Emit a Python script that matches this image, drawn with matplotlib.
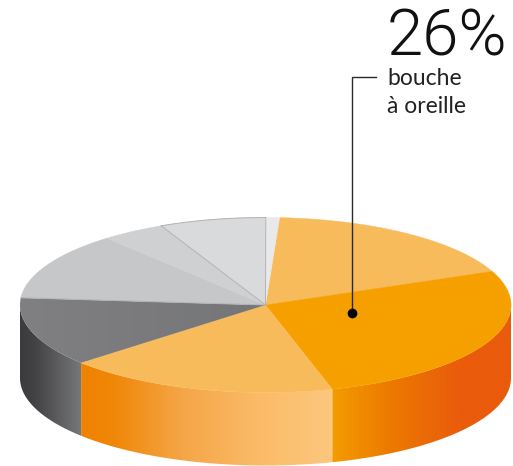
import numpy as np
import matplotlib
matplotlib.use("Agg")
import matplotlib.pyplot as plt
from matplotlib.colors import LinearSegmentedColormap
from matplotlib.patches import Polygon

# slice shares in %, clockwise from the top
shares = [17.8, 26.9, 17.9, 12.8, 12.5, 4.2, 7.0, 0.9]
top_colors = ["#f8bb5c", "#f6a000", "#f8bb5c", "#78797b", "#c6c7c9", "#cfd0d2", "#d9dadc", "#e9e9ea"]
label_value = "26%"
label_lines = ["bouche", "à oreille"]

# side gradients, (position along the visible side, colour)
side_colors = {
    1: [(0, "#f59c00"), (0.32, "#ec7a00"), (0.72, "#ea5b0c"), (1, "#ea5b0c")],
    2: [(0, "#f08200"), (0.13, "#f08707"), (0.4, "#f5a547"), (0.72, "#fbbc69"), (1, "#fcc77e")],
    3: [(0, "#3b3b3d"), (0.25, "#434345"), (1, "#77787a")],
}
gray_top = ["#807f82", "#757678"]

start_angle = 86.7
cx, cy = 265.5, 305
rx, ry = 245.5, 87.5
depth = 73

fig = plt.figure(figsize=(5.13, 4.66), dpi=100)
ax = fig.add_axes([0, 0, 1, 1])


def arc(a, b, dy=0):
    t = np.radians(np.linspace(a, b, 200))
    return np.column_stack([cx + rx * np.cos(t), cy - ry * np.sin(t) + dy])


def gradient(patch, stops, x0, x1):
    cmap = LinearSegmentedColormap.from_list("g", stops)
    im = ax.imshow(np.linspace(0, 1, 256).reshape(1, -1), cmap=cmap, aspect="auto",
                   extent=[x0, x1, cy + ry + depth + 5, cy - ry - 5], zorder=patch.get_zorder())
    im.set_clip_path(patch)


angles = start_angle - np.cumsum([0] + shares) * 3.6

# sides first, only the front half of the ellipse is visible
for i, stops in side_colors.items():
    a, b = angles[i], angles[i + 1]
    a_vis = min(a, 0)
    b_vis = max(b, -180)
    pts = np.vstack([arc(a_vis, b_vis), arc(b_vis, a_vis, depth)])
    side = Polygon(pts, closed=True, fc="none", ec="none", zorder=1)
    ax.add_patch(side)
    gradient(side, stops, pts[:, 0].min(), pts[:, 0].max())

# top face
for i, col in enumerate(top_colors):
    a, b = angles[i], angles[i + 1]
    pts = np.vstack([[cx, cy], arc(a, b)])
    if i == 3:
        top = Polygon(pts, closed=True, fc="none", ec="none", zorder=2)
        ax.add_patch(top)
        gradient(top, gray_top, pts[:, 0].min(), pts[:, 0].max())
    else:
        ax.add_patch(Polygon(pts, closed=True, fc=col, ec=col, lw=0.3, zorder=2))

# thin seams on the gray part
for k in [4, 6, 7]:
    p = arc(angles[k], angles[k] - 1)[0]
    ax.plot([cx, p[0]], [cy, p[1]], color="#b2b3b5", lw=0.7, zorder=3)
outline = arc(angles[6], angles[7])
ax.plot(outline[:, 0], outline[:, 1], color="#b2b3b5", lw=0.7, zorder=3)

# leader
ax.plot([376, 352, 352], [77, 77, 313], color="#2a2a2a", lw=1.0, zorder=4, solid_joinstyle="miter")
ax.plot([352], [313], "o", color="black", ms=7, mew=0, zorder=5)

ax.text(387, 56, label_value, fontsize=47, family="Roboto", weight=300, color="#111111", va="baseline")
ax.text(387, 85, label_lines[0], fontsize=16.5, family="Lato", color="#222222", va="baseline")
ax.text(387, 113, label_lines[1], fontsize=16.5, family="Lato", color="#222222", va="baseline")

ax.set_xlim(0, 513)
ax.set_ylim(466, 0)
ax.axis("off")
fig.savefig("out.png", dpi=100)
